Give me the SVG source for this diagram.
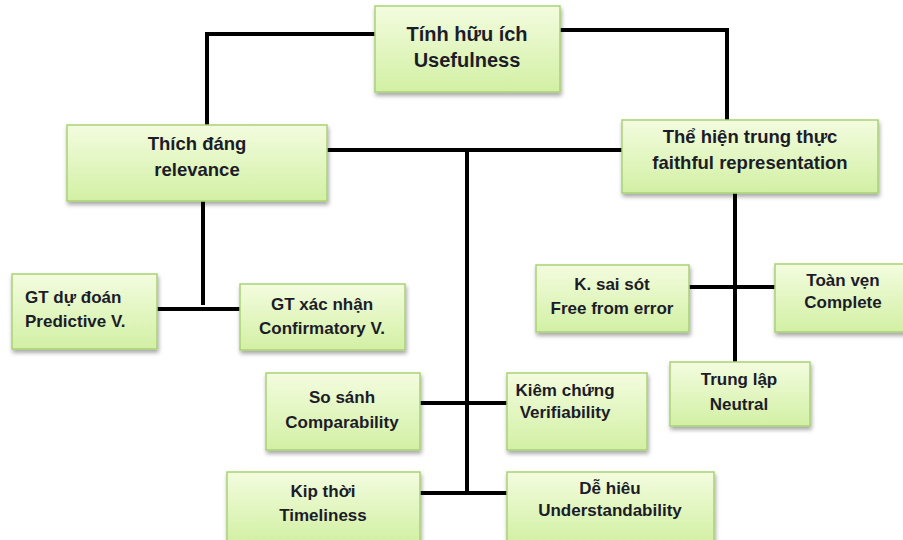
<svg xmlns="http://www.w3.org/2000/svg" width="903" height="540" viewBox="0 0 903 540">
<defs>
<linearGradient id="g" x1="0" y1="0" x2="0" y2="1">
<stop offset="0" stop-color="#f3fcdf"/>
<stop offset="1" stop-color="#d2f0a4"/>
</linearGradient>
<filter id="sh" x="-10%" y="-10%" width="130%" height="140%">
<feDropShadow dx="1" dy="3" stdDeviation="2" flood-color="#000" flood-opacity="0.35"/>
</filter>
<style>
.b{fill:url(#g);stroke:#a9d274;stroke-width:1.5;filter:url(#sh)}
.t{font-family:"Liberation Sans",Arial,sans-serif;font-weight:bold;font-size:17px;fill:#1c1c28;text-anchor:middle}
.L{font-size:18.5px}
.c{fill:none;stroke:#000;stroke-width:4;stroke-linecap:butt}
</style>
</defs>
<rect width="903" height="540" fill="#fff"/>
<g id="connectors">
<polyline class="c" points="375,34 207,34 207,126"/>
<polyline class="c" points="560,30 727,30 727,121"/>
<line class="c" x1="327" y1="150" x2="622" y2="150"/>
<line class="c" x1="467" y1="150" x2="467" y2="495"/>
<line class="c" x1="203" y1="201" x2="203" y2="305"/>
<line class="c" x1="157" y1="309" x2="240" y2="309"/>
<line class="c" x1="735" y1="193" x2="735" y2="362"/>
<line class="c" x1="689" y1="287" x2="775" y2="287"/>
<line class="c" x1="420" y1="403" x2="507" y2="403"/>
<line class="c" x1="420" y1="493" x2="507" y2="493"/>
</g>
<g id="usefulness"><rect class="b" x="375" y="6" width="185" height="86"/><text class="t" style="font-size:20px" x="467" y="41">Tính hữu ích</text><text class="t" style="font-size:20px" x="467" y="67">Usefulness</text></g>
<g id="relevance"><rect class="b" x="67" y="125" width="260" height="76"/><text class="t L" x="197" y="150">Thích đáng</text><text class="t L" x="197" y="176">relevance</text></g>
<g id="faithful"><rect class="b" x="622" y="120" width="256" height="73"/><text class="t L" x="750" y="143">Thể hiện trung thực</text><text class="t L" x="750" y="169">faithful representation</text></g>
<g id="predictive"><rect class="b" x="12" y="274" width="145" height="75"/><text class="t" style="text-anchor:start" x="25" y="303">GT dự đoán</text><text class="t" style="text-anchor:start" x="25" y="327">Predictive V.</text></g>
<g id="confirmatory"><rect class="b" x="240" y="284" width="165" height="66"/><text class="t" x="322" y="310">GT xác nhận</text><text class="t" x="322" y="334">Confirmatory V.</text></g>
<g id="free-from-error"><rect class="b" x="536" y="265" width="153" height="67"/><text class="t" x="612" y="290">K. sai sót</text><text class="t" x="612" y="314">Free from error</text></g>
<g id="complete"><rect class="b" x="775" y="264" width="134" height="68"/><text class="t" x="843" y="286">Toàn vẹn</text><text class="t" x="843" y="308">Complete</text></g>
<g id="neutral"><rect class="b" x="670" y="362" width="140" height="64"/><text class="t" x="739" y="385">Trung lập</text><text class="t" x="739" y="410">Neutral</text></g>
<g id="comparability"><rect class="b" x="266" y="373" width="154" height="77"/><text class="t" x="342" y="403">So sánh</text><text class="t" x="342" y="428">Comparability</text></g>
<g id="verifiability"><rect class="b" x="507" y="373" width="140" height="77"/><text class="t" x="565" y="396">Kiêm chứng</text><text class="t" x="565" y="418">Verifiability</text></g>
<g id="timeliness"><rect class="b" x="227" y="472" width="193" height="70"/><text class="t" x="323" y="497">Kip thời</text><text class="t" x="323" y="521">Timeliness</text></g>
<g id="understandability"><rect class="b" x="507" y="472" width="207" height="70"/><text class="t" x="610" y="494">Dễ hiêu</text><text class="t" x="610" y="516">Understandability</text></g>
</svg>
